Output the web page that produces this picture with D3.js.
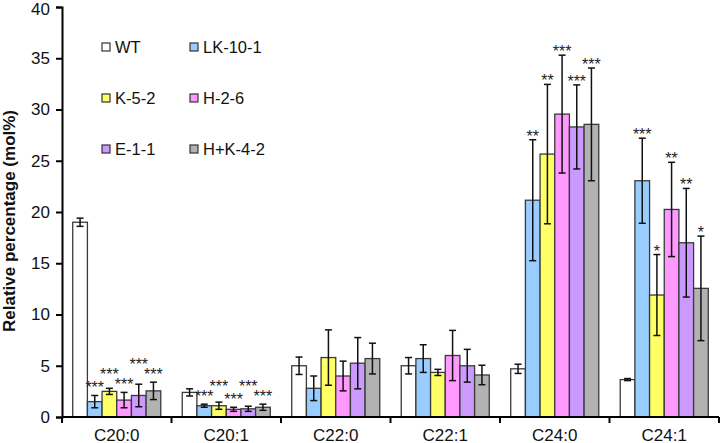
<!DOCTYPE html>
<html><head><meta charset="utf-8">
<script src="https://cdn.jsdelivr.net/npm/d3@7"></script>
<style>body{margin:0;background:#fff}svg{display:block;font-family:"Liberation Sans",Arial,sans-serif}</style>
</head><body><svg id="c" width="720" height="443"></svg>
<script>
const categories = ["C20:0","C20:1","C22:0","C22:1","C24:0","C24:1"];
const seriesNames = ["WT","LK-10-1","K-5-2","H-2-6","E-1-1","H+K-4-2"];
const seriesColors = ["#FFFFFF","#99CCFF","#FFFF66","#FF99FF","#CC99FF","#B2B2B2"];
const valWT   = [19.0, 2.4, 5.0, 5.0, 4.7, 3.65];
const valLK   = [1.5, 1.1, 2.8, 5.7, 21.15, 23.05];
const valK52  = [2.5, 1.1, 5.8, 4.35, 25.65, 11.9];
const valH26  = [1.65, 0.75, 4.0, 6.0, 29.55, 20.25];
const valE11  = [2.1, 0.8, 5.25, 5.0, 28.3, 17.0];
const valHK42 = [2.55, 0.95, 5.7, 4.1, 28.55, 12.55];
const errWT   = [0.4, 0.35, 0.85, 0.8, 0.45, 0.1];
const errLK   = [0.6, 0.15, 1.2, 1.35, 5.9, 4.15];
const errK52  = [0.3, 0.35, 2.7, 0.3, 6.8, 3.95];
const errH26  = [0.75, 0.2, 1.45, 2.45, 5.75, 4.6];
const errE11  = [1.1, 0.25, 2.5, 1.6, 4.1, 5.3];
const errHK42 = [0.85, 0.3, 1.5, 0.95, 5.5, 5.1];
const sigWT   = ["","","","","",""];
const sigLK   = ["***","***","","","**","***"];
const sigK52  = ["***","***","","","**","*"];
const sigH26  = ["***","***","","","***","**"];
const sigE11  = ["***","***","","","***","**"];
const sigHK42 = ["***","***","","","***","*"];
const yTicks = [0,5,10,15,20,25,30,35,40];
const yTitle = "Relative percentage (mol%)";

const vals = [valWT,valLK,valK52,valH26,valE11,valHK42];
const errs = [errWT,errLK,errK52,errH26,errE11,errHK42];
const sigs = [sigWT,sigLK,sigK52,sigH26,sigE11,sigHK42];

const svg = d3.select("#c");
const L = 62, R = 719, B = 417, T = 7;
const x0 = d3.scaleBand().domain(categories).range([L,R]).paddingInner(0.196).paddingOuter(0.098);
const x1 = d3.scaleBand().domain(seriesNames).range([0,x0.bandwidth()]);
const y = d3.scaleLinear().domain([0,40]).range([B,T]);

const data = [];
categories.forEach((c,ci)=>seriesNames.forEach((s,si)=>{
  data.push({c,s,si,v:vals[si][ci],e:errs[si][ci],sig:sigs[si][ci]});
}));

const g = svg.append("g");
g.selectAll("rect.bar").data(data).join("rect")
  .attr("class","bar")
  .attr("x",d=>x0(d.c)+x1(d.s))
  .attr("y",d=>y(d.v))
  .attr("width",x1.bandwidth())
  .attr("height",d=>B-y(d.v))
  .attr("fill",d=>seriesColors[d.si])
  .attr("stroke","#3a3a3a").attr("stroke-width",1.3);

// error bars
const eb = g.selectAll("g.eb").data(data).join("g").attr("class","eb")
  .attr("transform",d=>`translate(${x0(d.c)+x1(d.s)+x1.bandwidth()/2},0)`);
eb.append("line").attr("y1",d=>y(d.v+d.e)).attr("y2",d=>y(d.v-d.e))
  .attr("stroke","#111").attr("stroke-width",1.5);
eb.append("line").attr("x1",-3.5).attr("x2",3.5).attr("y1",d=>y(d.v+d.e)).attr("y2",d=>y(d.v+d.e))
  .attr("stroke","#111").attr("stroke-width",1.5);
eb.append("line").attr("x1",-3.5).attr("x2",3.5).attr("y1",d=>y(d.v-d.e)).attr("y2",d=>y(d.v-d.e))
  .attr("stroke","#111").attr("stroke-width",1.5);

// significance stars: glyph centre above error cap; zigzag in crowded groups
const starC = new Map();
categories.forEach(c=>{
  const items = data.filter(d=>d.c===c && d.sig);
  const nat = items.map(d=>y(d.v+d.e) - (d.v<4 ? 11 : 7));
  let crowded = false;
  for (let i=1;i<nat.length;i++) if (Math.abs(nat[i]-nat[i-1])<9) crowded = true;
  const pos = nat.slice();
  if (crowded) {
    for (let i=1;i<nat.length;i+=2) {
      const nb = [nat[i-1]]; if (i+1<nat.length) nb.push(nat[i+1]);
      pos[i] = Math.min(nat[i], Math.min(...nb) - 10);
    }
  }
  items.forEach((d,i)=>starC.set(d,pos[i]));
});
eb.filter(d=>d.sig).append("text")
  .attr("text-anchor","middle")
  .attr("y",d=>starC.get(d)+9)
  .attr("font-size",16).attr("fill","#222")
  .text(d=>d.sig);

// axes
const yAxis = d3.axisLeft(y).tickValues(yTicks).tickSize(6).tickPadding(6);
const ya = svg.append("g").attr("transform",`translate(${L},0)`).call(yAxis);
ya.select(".domain").attr("stroke","#000").attr("stroke-width",2);
ya.selectAll(".tick line").attr("stroke","#000").attr("stroke-width",2);
ya.selectAll(".tick text").attr("font-size",17).attr("fill","#111").attr("font-family","Liberation Sans, Arial, sans-serif")
  .attr("dy",d=>d===40 ? "0.42em" : "0.32em");

const xa = svg.append("g").attr("transform",`translate(0,${B})`);
xa.append("line").attr("x1",L).attr("x2",R).attr("stroke","#000").attr("stroke-width",2);
const bounds = categories.map(c=>x0(c)-x0.step()*0.098).concat([R]);
xa.selectAll("line.tk").data(bounds).join("line").attr("class","tk")
  .attr("x1",d=>d).attr("x2",d=>d).attr("y1",0).attr("y2",6).attr("stroke","#000").attr("stroke-width",2);
xa.selectAll("text").data(categories).join("text")
  .attr("x",d=>x0(d)+x0.bandwidth()/2).attr("y",23.5)
  .attr("text-anchor","middle").attr("font-size",17).attr("fill","#111").text(d=>d);

svg.append("text").attr("transform","translate(15,221) rotate(-90)")
  .attr("text-anchor","middle").attr("font-size",17).attr("font-weight","bold").attr("fill","#111")
  .text(yTitle);

// legend
const lg = svg.append("g");
seriesNames.forEach((s,i)=>{
  const col = i%2, row = Math.floor(i/2);
  const lx = 102 + col*88, ly = 43 + row*51;
  lg.append("rect").attr("x",lx).attr("y",ly).attr("width",8).attr("height",8)
    .attr("fill",seriesColors[i]).attr("stroke","#333").attr("stroke-width",1.2);
  lg.append("text").attr("x",lx+13).attr("y",ly+10).attr("font-size",16.5).attr("fill","#111").text(s);
});
</script></body></html>
